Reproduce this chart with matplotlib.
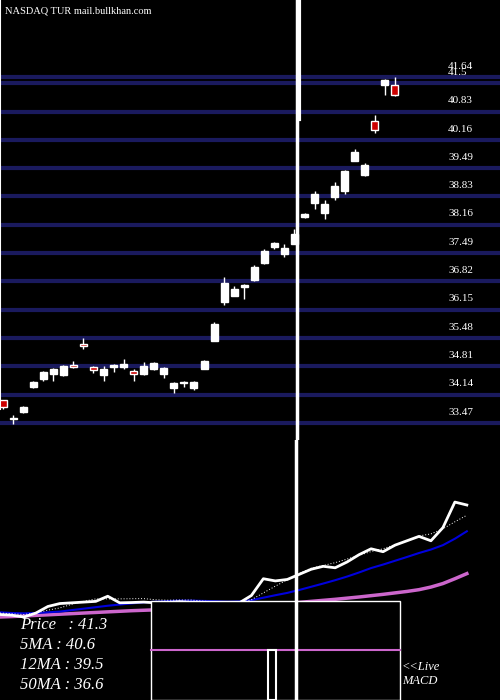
import numpy as np
import matplotlib
matplotlib.use("Agg")
import matplotlib.pyplot as plt
from matplotlib.patches import Rectangle

# candles: open, high, low, close
opens = [34.01,33.59,33.73,34.32,34.51,34.63,34.60,34.84,35.34,34.79,34.60,34.79,34.79,34.70,34.63,34.75,34.63,34.30,34.42,34.30,
         34.75,35.41,36.33,36.47,36.69,36.85,37.25,37.63,37.47,37.70,38.34,38.67,38.43,38.81,38.95,39.66,39.33,40.61,41.46,41.46]
highs = [34.01,33.66,33.87,34.46,34.70,34.77,34.84,34.94,35.48,34.82,34.82,34.86,34.98,34.75,34.91,34.91,34.79,34.44,34.46,34.46,
         34.96,35.86,36.92,36.71,36.76,37.21,37.58,37.75,37.70,38.06,38.43,38.95,38.74,39.17,39.45,39.95,39.62,40.75,41.60,41.65]
lows = [33.80,33.45,33.71,34.30,34.46,34.46,34.58,34.77,35.22,34.65,34.46,34.68,34.75,34.46,34.60,34.72,34.53,34.18,34.32,34.25,
        34.75,35.41,36.26,36.47,36.40,36.83,37.23,37.58,37.39,37.70,38.32,38.53,38.29,38.74,38.88,39.66,39.31,40.33,41.23,41.20]
closes = [33.85,33.56,33.85,34.44,34.68,34.75,34.82,34.79,35.29,34.72,34.75,34.84,34.86,34.63,34.82,34.89,34.77,34.42,34.44,34.44,
          34.94,35.81,36.78,36.64,36.73,37.16,37.54,37.73,37.61,37.94,38.41,38.88,38.65,39.07,39.43,39.88,39.57,40.40,41.58,41.23]

# lower panel series
price_line = [33.80,33.75,33.63,33.90,34.35,34.55,34.60,34.65,34.70,35.05,34.60,34.62,34.65,34.60,34.62,34.68,34.62,34.55,34.50,34.55,
              34.60,35.10,36.25,36.10,36.20,36.55,36.90,37.10,37.00,37.40,37.90,38.30,38.10,38.55,38.85,39.15,38.85,39.75,41.50,41.30]
ma5 = [33.9,33.85,33.8,33.9,34.1,34.25,34.5,34.7,34.87,34.87,34.87,34.88,34.89,34.81,34.78,34.79,34.79,34.71,34.67,34.59,
       34.6,34.81,35.28,35.74,36.18,36.62,36.97,37.16,37.35,37.6,37.85,38.11,38.3,38.59,38.89,39.18,39.32,39.67,40.15,40.6]
ma12 = [33.95,33.9,33.88,33.9,33.95,34.0,34.1,34.2,34.3,34.4,34.48,34.56,34.63,34.68,34.72,34.75,34.75,34.73,34.71,34.68,
        34.7,34.78,34.95,35.12,35.28,35.48,35.7,35.92,36.15,36.4,36.68,36.98,37.22,37.48,37.74,38.01,38.25,38.55,38.99,39.5]
ma50 = [33.63,33.66,33.7,33.74,33.78,33.82,33.86,33.9,33.94,33.98,34.02,34.06,34.09,34.12,34.15,34.18,34.21,34.24,34.27,34.3,
        34.34,34.39,34.45,34.51,34.57,34.63,34.7,34.77,34.84,34.92,35.0,35.09,35.18,35.28,35.38,35.5,35.68,35.92,36.25,36.6]

levels = [41.64, 41.5, 40.83, 40.16, 39.49, 38.83, 38.16, 37.49, 36.82, 36.15, 35.48, 34.81, 34.14, 33.47]
level_labels = ["41.64", "41.5", "40.83", "40.16", "39.49", "38.83", "38.16", "37.49", "36.82", "36.15", "35.48", "34.81", "34.14", "33.47"]
legend = ["Price   : 41.3", "5MA : 40.6", "12MA : 39.5", "50MA : 36.6"]

serif = "Liberation Serif"
fig = plt.figure(figsize=(5, 7), dpi=100, facecolor="black")

# ---- price panel
ax = fig.add_axes([0, 260/700, 1, 440/700])
ax.set_facecolor("black")
ax.set_xlim(-0.3, 49.45)
ax.set_ylim(33.47 - 17/42.3, 33.47 + 423/42.3)
ax.axis("off")
for lv in levels:
    ax.axhline(lv, color="#1a1a5e", lw=3, zorder=1)
for lv, lab in zip(levels, level_labels):
    ax.text(448/500*49.75 - 0.3, lv + 0.15, lab, color="white", fontsize=8, family=serif, va="bottom", zorder=5)

w = 0.7
for i, (o, h, l, c) in enumerate(zip(opens, highs, lows, closes)):
    col = "white" if c >= o else "#cc0000"
    ax.vlines(i, l, h, color="white", lw=1, zorder=3)
    b = max(abs(c - o), 0.03)
    ax.add_patch(Rectangle((i - w/2, min(o, c)), w, b, facecolor=col, edgecolor="white", lw=1, zorder=4))

ax.axvline(29.5, color="white", lw=3, ymin=0.73, zorder=6)
ax.axvline(29.3, color="white", lw=2.5, zorder=6)
ax.axvline(-0.3, color="white", lw=1.5, ymin=0.07, zorder=6)
ax.text(0.01, 0.985, "NASDAQ TUR mail.bullkhan.com", transform=ax.transAxes, color="white",
        fontsize=7.5, family=serif, va="top", zorder=6)

# ---- lower panel
bx = fig.add_axes([0, 0, 1, 260/700])
bx.set_facecolor("none")
bx.set_xlim(0, 41.77)
bx.set_ylim(41.3 - 195/14.6, 41.3 + 65/14.6)
bx.axis("off")
xs = np.arange(len(price_line))
bx.plot(xs, ma50, color="#cc66cc", lw=2.5, zorder=2)
bx.plot(xs, ma12, color="#0000dd", lw=1.5, zorder=2)
bx.plot(xs, ma5, color="white", lw=0.7, ls=(0, (1, 2)), zorder=2)
bx.plot(xs, price_line, color="white", lw=2, zorder=3)

bx.add_patch(Rectangle((151/500, 0), 249/500, 99/260, transform=bx.transAxes, facecolor="black",
                       edgecolor="white", lw=1, zorder=5))
bx.plot([151/500, 400/500], [50/260, 50/260], transform=bx.transAxes, color="#cc66cc", lw=1.5, zorder=6)
bx.add_patch(Rectangle((268/500, 0), 8/500, 50/260, transform=bx.transAxes, facecolor="black",
                       edgecolor="white", lw=1.5, zorder=6))
bx.plot([296/500, 296/500], [0, 1], transform=bx.transAxes, color="white", lw=2.5, zorder=7)

for k, t in enumerate(legend):
    bx.text(20/500, (260 - 185 - k*20)/260, t, transform=bx.transAxes, color="white", fontsize=12,
            family=serif, style="italic", va="center", zorder=8)
bx.text(402/500, (260 - 227)/260, "<<Live", transform=bx.transAxes, color="white", fontsize=9,
        family=serif, style="italic", va="center", zorder=8)
bx.text(402/500, (260 - 241)/260, "MACD", transform=bx.transAxes, color="white", fontsize=9,
        family=serif, style="italic", va="center", zorder=8)

fig.savefig("out.png", dpi=100, facecolor="black")
